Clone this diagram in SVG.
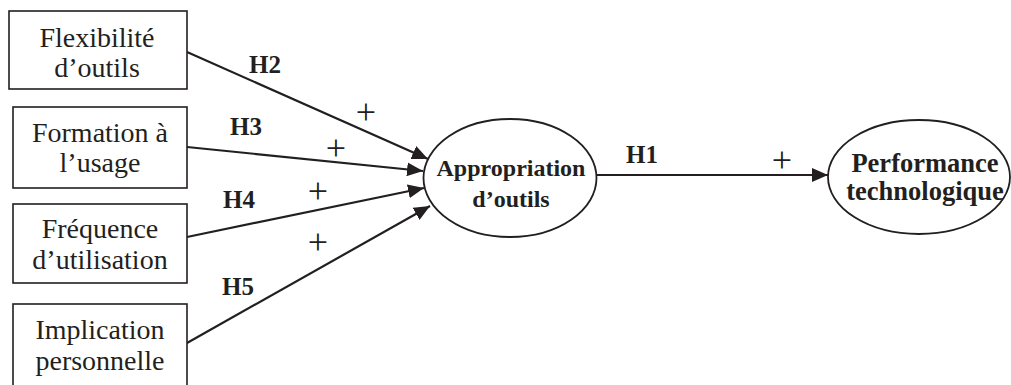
<svg xmlns="http://www.w3.org/2000/svg" width="1011" height="385" viewBox="0 0 1011 385">
<style>
.box{fill:#fff;stroke:#231f20;stroke-width:1.6}
.ell{fill:#fff;stroke:#231f20;stroke-width:1.8}
.t{font-family:"Liberation Serif","Times New Roman",serif;font-size:28px;fill:#231f20;text-anchor:middle}
.b{font-family:"Liberation Serif","Times New Roman",serif;font-size:24px;font-weight:bold;fill:#231f20;text-anchor:middle}
.b2{font-family:"Liberation Serif","Times New Roman",serif;font-size:26.5px;font-weight:bold;fill:#231f20;text-anchor:middle}
.lab{font-family:"Liberation Serif","Times New Roman",serif;font-size:25px;font-weight:bold;fill:#231f20}
.plus{font-family:"Liberation Serif","Times New Roman",serif;font-size:36px;fill:#231f20;text-anchor:middle}
.c{stroke:#231f20;stroke-width:2.2;fill:none;marker-end:url(#ah)}
</style>
<defs>
<marker id="ah" viewBox="0 0 16 14" refX="16" refY="7" markerWidth="16" markerHeight="14" markerUnits="userSpaceOnUse" orient="auto">
<path d="M0,0 L16,7 L0,14 z" fill="#231f20"/>
</marker>
</defs>
<rect width="1011" height="385" fill="#fff"/>
<g id="connectors">
<line class="c" x1="187" y1="52" x2="428" y2="159"/>
<line class="c" x1="187" y1="147" x2="423" y2="171"/>
<line class="c" x1="187" y1="237" x2="424" y2="188"/>
<line class="c" x1="187" y1="343" x2="430" y2="206"/>
<line class="c" x1="597" y1="175" x2="828" y2="175"/>
<text class="lab" x="249" y="73">H2</text>
<text class="lab" x="230" y="135">H3</text>
<text class="lab" x="223" y="208">H4</text>
<text class="lab" x="222" y="295">H5</text>
<text class="lab" x="626" y="163">H1</text>
<text class="plus" x="366" y="124">+</text>
<text class="plus" x="336" y="159.5">+</text>
<text class="plus" x="318" y="202.5">+</text>
<text class="plus" x="318" y="253.5">+</text>
<text class="plus" x="782" y="171.5">+</text>
</g>
<g id="flexibilite">
<rect class="box" x="9" y="11" width="178" height="78"/>
<text class="t" x="97" y="47">Flexibilité</text>
<text class="t" x="97" y="77">d’outils</text>
</g>
<g id="formation">
<rect class="box" x="13" y="107" width="174" height="81"/>
<text class="t" x="100" y="142">Formation à</text>
<text class="t" x="100" y="172">l’usage</text>
</g>
<g id="frequence">
<rect class="box" x="13" y="204" width="174" height="79"/>
<text class="t" x="100" y="238">Fréquence</text>
<text class="t" x="100" y="269">d’utilisation</text>
</g>
<g id="implication">
<rect class="box" x="13" y="304" width="174" height="90"/>
<text class="t" x="100" y="339">Implication</text>
<text class="t" x="100" y="370">personnelle</text>
</g>
<g id="appropriation">
<ellipse class="ell" cx="510" cy="178" rx="86.5" ry="59"/>
<text class="b" x="511" y="176">Appropriation</text>
<text class="b" x="511" y="207">d’outils</text>
</g>
<g id="performance">
<ellipse class="ell" cx="919" cy="177" rx="91" ry="57"/>
<text class="b2" x="925" y="171.5">Performance</text>
<text class="b2" x="925" y="200">technologique</text>
</g>
</svg>
